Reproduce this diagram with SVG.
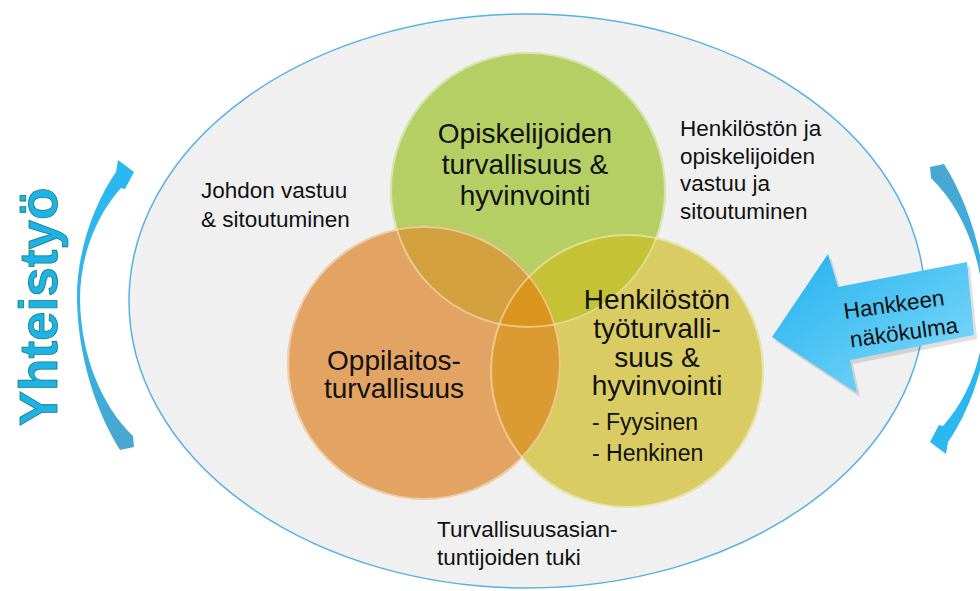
<svg xmlns="http://www.w3.org/2000/svg" width="980" height="591" viewBox="0 0 980 591">
<style>
.lbl{font-family:"Liberation Sans",Arial,sans-serif;fill:#111;}
.big{font-size:28px;text-anchor:middle;}
.mid{font-size:22.5px;}
.sm{font-size:23px;}
.rim{fill:none;stroke:#ffffff;stroke-opacity:0.45;stroke-width:2;}
</style>
<defs>
<linearGradient id="cyc" x1="0" y1="0" x2="0" y2="1">
<stop offset="0" stop-color="#29b9f2"/>
<stop offset="0.6" stop-color="#35b2e6"/>
<stop offset="1" stop-color="#4aa6cf"/>
</linearGradient>
<linearGradient id="bigArrow" x1="0" y1="0" x2="1" y2="1">
<stop offset="0" stop-color="#22b1ee"/>
<stop offset="1" stop-color="#86dbfb"/>
</linearGradient>
<clipPath id="cG"><circle cx="528" cy="190" r="138"/></clipPath>
<clipPath id="cO"><circle cx="424" cy="363" r="137"/></clipPath>
</defs>

<g id="background">
<ellipse cx="527" cy="301" rx="398" ry="287" fill="#f0f0f0" stroke="#55b2e2" stroke-width="1.5"/>
</g>

<g id="connectors">
<path id="cycleArrow" fill="url(#cyc)" d="M134,172 L118,160 L116,172 C93,205 76,255 77,300 C78,355 95,410 120,450 L134,447 L133,436 C101,405 81,355 80,300 C80,256 96,216 121,188 L125,189 Z"/>
<path fill="url(#cyc)" transform="rotate(180 532 307)" d="M134,172 L118,160 L116,172 C93,205 76,255 77,300 C78,355 95,410 120,450 L134,447 L133,436 C101,405 81,355 80,300 C80,256 96,216 121,188 L125,189 Z"/>
</g>

<g id="yhteistyo">
<text class="lbl" transform="translate(57,307) rotate(-90)" text-anchor="middle" style="font-size:53px;font-weight:bold;fill:#1db3e6;stroke:#137d73;stroke-width:0.8">Yhteistyö</text>
</g>

<g id="circles">
<circle id="c-green" cx="528" cy="190" r="138" fill="#b6cf65"/>
<circle id="c-orange" cx="424" cy="363" r="137" fill="#e3a463"/>
<circle id="c-yellow" cx="627" cy="371" r="137" fill="#d9cc63"/>
<g clip-path="url(#cG)">
<circle cx="424" cy="363" r="137" fill="#d3a03e"/>
<circle cx="627" cy="371" r="137" fill="#c5c236"/>
</g>
<g clip-path="url(#cO)">
<circle cx="627" cy="371" r="137" fill="#dc9a33"/>
<g clip-path="url(#cG)">
<circle cx="627" cy="371" r="137" fill="#db951c"/>
</g>
</g>
<circle class="rim" cx="528" cy="190" r="137"/>
<circle class="rim" cx="424" cy="363" r="136"/>
<circle class="rim" cx="627" cy="371" r="136"/>
</g>

<g id="node-opiskelijoiden">
<text class="lbl big" x="525" y="143">Opiskelijoiden</text>
<text class="lbl big" x="525" y="174">turvallisuus &amp;</text>
<text class="lbl big" x="525" y="205">hyvinvointi</text>
</g>

<g id="node-oppilaitos">
<text class="lbl big" x="394" y="370">Oppilaitos-</text>
<text class="lbl big" x="394" y="398">turvallisuus</text>
</g>

<g id="node-henkiloston">
<text class="lbl big" x="657" y="309">Henkilöstön</text>
<text class="lbl big" x="657" y="338">työturvalli-</text>
<text class="lbl big" x="657" y="367">suus &amp;</text>
<text class="lbl big" x="657" y="395">hyvinvointi</text>
<text class="lbl sm" x="592" y="430">- Fyysinen</text>
<text class="lbl sm" x="592" y="461">- Henkinen</text>
</g>

<g id="label-johdon">
<text class="lbl mid" x="201" y="198">Johdon vastuu</text>
<text class="lbl mid" x="201" y="227">&amp; sitoutuminen</text>
</g>

<g id="label-henkiloston-ja">
<text class="lbl mid" x="680" y="136">Henkilöstön ja</text>
<text class="lbl mid" x="680" y="164">opiskelijoiden</text>
<text class="lbl mid" x="680" y="191">vastuu ja</text>
<text class="lbl mid" x="680" y="219">sitoutuminen</text>
</g>

<g id="label-turvallisuusasiantuntijoiden">
<text class="lbl mid" x="437" y="537">Turvallisuusasian-</text>
<text class="lbl mid" x="437" y="565">tuntijoiden tuki</text>
</g>

<g id="node-hankkeen">
<polygon points="775,341 831,258 841,291 970,266 977,339 853,364 860,397" fill="#000" opacity="0.12"/>
<polygon points="772,337 828,254 838,287 967,262 974,335 850,360 857,393" fill="url(#bigArrow)"/>
<text class="lbl mid" transform="translate(895,312) rotate(-8)" text-anchor="middle">Hankkeen</text>
<text class="lbl mid" transform="translate(905,340) rotate(-8)" text-anchor="middle">näkökulma</text>
</g>
</svg>
